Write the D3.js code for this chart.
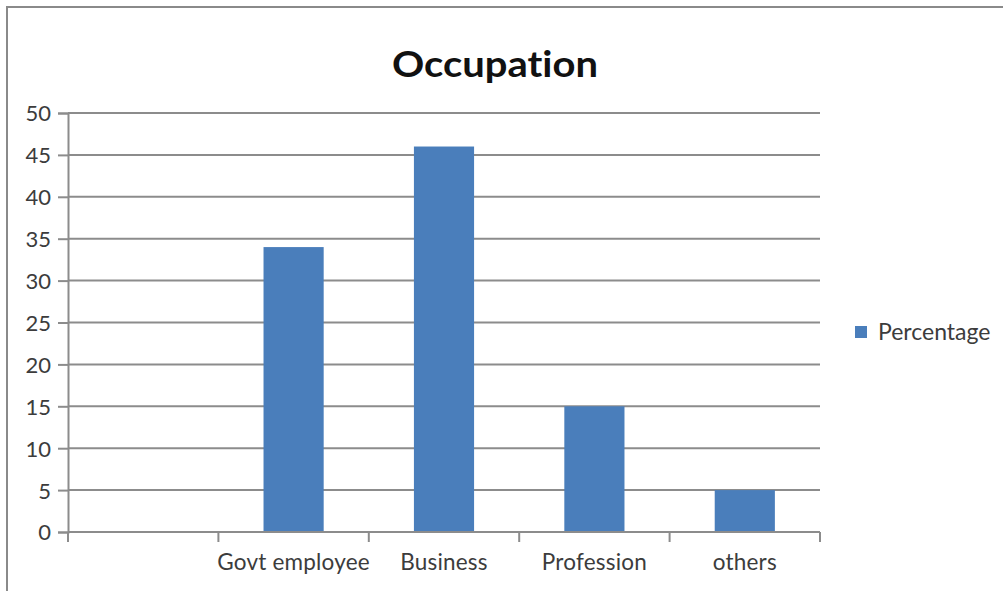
<!DOCTYPE html>
<html>
<head>
<meta charset="utf-8">
<script src="https://cdn.jsdelivr.net/npm/d3@7"></script>
<style>
  html, body { margin: 0; padding: 0; background: #fff; }
  svg { display: block; }
  text { font-family: Lato, "Open Sans", "Liberation Sans", sans-serif; font-variant-ligatures: none; }
</style>
</head>
<body>
<svg id="chart" width="1003" height="591"></svg>
<script>
// Occupation breakdown (percent of respondents)
const categories = ["", "Govt employee", "Business", "Profession", "others"];
const percentage = [null, 34, 46, 15, 5];
const yTicks = [0, 5, 10, 15, 20, 25, 30, 35, 40, 45, 50];
const seriesName = "Percentage";
const chartTitle = "Occupation";

const rows = categories.map((c, i) => ({ category: c, value: percentage[i] }));

const svg = d3.select("#chart");
const W = 1003, H = 591;
const plot = { left: 68, right: 820, top: 113, bottom: 532 };
const barColor = "#4a7ebb";
const gridColor = "#8c8c8c";
const textColor = "#3c3c3c";

// outer chart frame
svg.append("rect")
  .attr("x", 7).attr("y", 7)
  .attr("width", W - 7 + 2).attr("height", H)
  .attr("fill", "#fff")
  .attr("stroke", "#8a8a8a").attr("stroke-width", 2);

const x = d3.scaleBand()
  .domain(categories)
  .range([plot.left, plot.right])
  .paddingInner(0)
  .paddingOuter(0);

const y = d3.scaleLinear()
  .domain([0, 50])
  .range([plot.bottom, plot.top]);

// horizontal gridlines
svg.append("g")
  .selectAll("line")
  .data(yTicks.filter(t => t > 0))
  .join("line")
  .attr("x1", plot.left).attr("x2", plot.right)
  .attr("y1", d => y(d)).attr("y2", d => y(d))
  .attr("stroke", gridColor).attr("stroke-width", 2);

// bars
const barW = x.bandwidth() * 0.4;
svg.append("g")
  .selectAll("rect")
  .data(rows.filter(d => d.value != null))
  .join("rect")
  .attr("x", d => x(d.category) + (x.bandwidth() - barW) / 2)
  .attr("y", d => y(d.value))
  .attr("width", barW)
  .attr("height", d => y(0) - y(d.value))
  .attr("fill", barColor);

// y axis
const yAxis = svg.append("g")
  .attr("transform", `translate(${plot.left},0)`)
  .call(d3.axisLeft(y).tickValues(yTicks).tickSize(10).tickPadding(7).tickFormat(d3.format("d")));
yAxis.select(".domain").attr("stroke", gridColor).attr("stroke-width", 2);
yAxis.selectAll(".tick line").attr("stroke", gridColor).attr("stroke-width", 2);
yAxis.selectAll(".tick text")
  .attr("fill", textColor)
  .style("font-size", "22px")
  .attr("dy", "0.36em");

// x axis with ticks at band boundaries
const xAxis = svg.append("g")
  .attr("transform", `translate(0,${plot.bottom})`);
xAxis.append("line")
  .attr("x1", plot.left).attr("x2", plot.right)
  .attr("stroke", gridColor).attr("stroke-width", 2);
const boundaries = categories.map(c => x(c)).concat([x(categories[categories.length - 1]) + x.bandwidth()]);
xAxis.selectAll("line.tick")
  .data(boundaries)
  .join("line")
  .attr("class", "tick")
  .attr("x1", d => d).attr("x2", d => d)
  .attr("y1", 0).attr("y2", 10)
  .attr("stroke", gridColor).attr("stroke-width", 2);
xAxis.selectAll("text")
  .data(categories)
  .join("text")
  .attr("x", d => x(d) + x.bandwidth() / 2)
  .attr("y", 38)
  .attr("text-anchor", "middle")
  .attr("fill", textColor)
  .style("font-size", "22.5px")
  .style("letter-spacing", "0.2px")
  .text(d => d);

// title
svg.append("text")
  .attr("x", 495).attr("y", 77)
  .attr("text-anchor", "middle")
  .attr("fill", "#111")
  .style("font-size", "37px")
  .style("font-weight", "bold")
  .attr("textLength", 206)
  .attr("lengthAdjust", "spacingAndGlyphs")
  .text(chartTitle);

// legend
const legend = svg.append("g").attr("transform", "translate(855,326)");
legend.append("rect")
  .attr("width", 12).attr("height", 12)
  .attr("fill", barColor);
legend.append("text")
  .attr("x", 23).attr("y", 6)
  .attr("dy", "0.36em")
  .attr("fill", textColor)
  .style("font-size", "23px")
  .text(seriesName);
</script>
</body>
</html>
